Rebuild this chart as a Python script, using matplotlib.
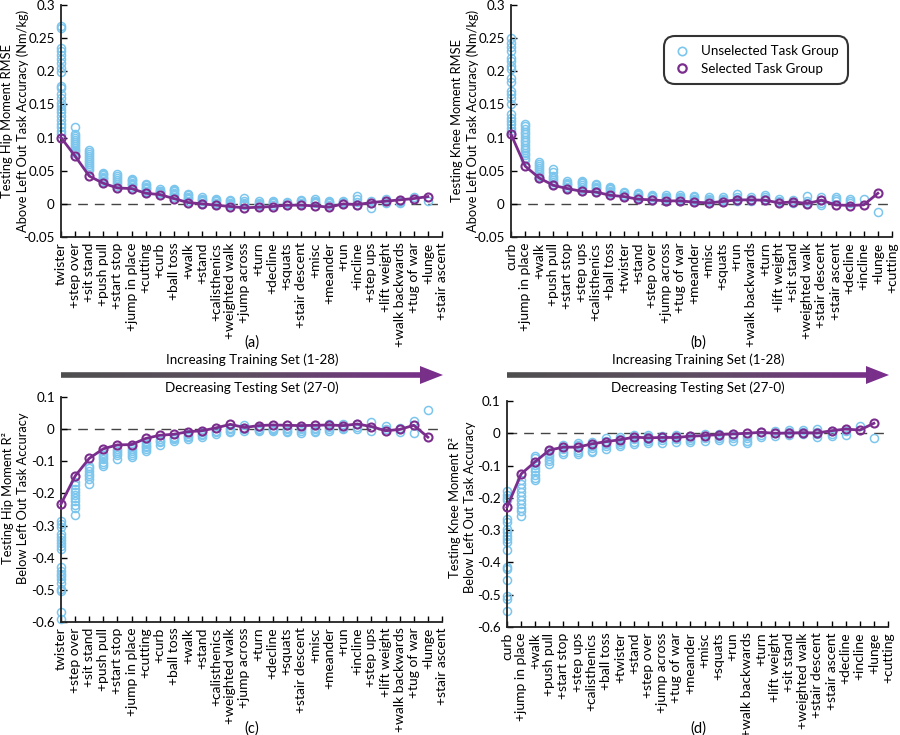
import numpy as np
import matplotlib
matplotlib.use('Agg')
import matplotlib.pyplot as plt
from matplotlib.lines import Line2D
from matplotlib.patches import Polygon
from matplotlib.colors import LinearSegmentedColormap

plt.rcParams['font.family'] = ['Lato', 'DejaVu Sans']
plt.rcParams['font.size'] = 10
plt.rcParams['axes.unicode_minus'] = False

BLUE = '#7cc6ee'
PURPLE = '#7b2d8e'

# task order added at each step
hip_tasks = ['twister', '+step over', '+sit stand', '+push pull', '+start stop', '+jump in place',
             '+cutting', '+curb', '+ball toss', '+walk', '+stand', '+calisthenics', '+weighted walk',
             '+jump across', '+turn', '+decline', '+squats', '+stair descent', '+misc', '+meander',
             '+run', '+incline', '+step ups', '+lift weight', '+walk backwards', '+tug of war',
             '+lunge', '+stair ascent']
knee_tasks = ['curb', '+jump in place', '+walk', '+push pull', '+start stop', '+step ups',
              '+calisthenics', '+ball toss', '+twister', '+stand', '+step over', '+jump across',
              '+tug of war', '+meander', '+misc', '+squats', '+run', '+walk backwards', '+turn',
              '+lift weight', '+sit stand', '+weighted walk', '+stair descent', '+stair ascent',
              '+decline', '+incline', '+lunge', '+cutting']

# (a) hip RMSE
hip_rmse_sel = [0.100, 0.072, 0.042, 0.031, 0.024, 0.023, 0.016, 0.014, 0.008, 0.002, 0.000,
                -0.002, -0.004, -0.006, -0.005, -0.004, -0.002, -0.002, -0.003, -0.005, 0.000,
                -0.001, 0.002, 0.004, 0.006, 0.008, 0.011]
hip_rmse_unsel = [
    [0.268, 0.265, 0.235, 0.230, 0.224, 0.218, 0.212, 0.205, 0.199, 0.178, 0.175, 0.165, 0.160,
     0.152, 0.148, 0.143, 0.138, 0.133, 0.127, 0.120, 0.116, 0.110, 0.105],
    [0.116, 0.106, 0.103, 0.100, 0.097, 0.094, 0.091, 0.088, 0.085, 0.082, 0.079, 0.076],
    [0.081, 0.078, 0.075, 0.072, 0.069, 0.066, 0.063, 0.060, 0.057, 0.054, 0.051],
    [0.047, 0.045, 0.043, 0.041, 0.039, 0.037, 0.035, 0.033],
    [0.045, 0.042, 0.039, 0.036, 0.033, 0.030, 0.027],
    [0.038, 0.036, 0.034, 0.032, 0.030, 0.028, 0.026],
    [0.030, 0.028, 0.026, 0.024, 0.022, 0.020, 0.018],
    [0.022, 0.020, 0.019, 0.018, 0.017, 0.016],
    [0.023, 0.021, 0.019, 0.017, 0.015, 0.013, 0.011],
    [0.015, 0.013, 0.011, 0.009, 0.007, 0.005],
    [0.010, 0.008, 0.006, 0.004, 0.002],
    [0.008, 0.006, 0.004, 0.002, 0.000],
    [0.006, 0.004, 0.002, 0.000, -0.002],
    [0.009, 0.004, 0.002, 0.000, -0.002],
    [0.004, 0.002, 0.000, -0.002],
    [0.005, 0.003, 0.001, -0.002],
    [0.003, 0.001, -0.001],
    [0.006, 0.004, 0.002, 0.000],
    [0.007, 0.005, 0.003, 0.001],
    [0.005, 0.003, 0.001, -0.001],
    [0.005, 0.003, 0.001],
    [0.012, 0.007, 0.003, -0.002],
    [0.005, 0.001, -0.006],
    [0.007, 0.004, 0.001],
    [0.005, 0.003, 0.001],
    [0.010, 0.008],
    [0.004],
]

# (b) knee RMSE
knee_rmse_sel = [0.105, 0.057, 0.039, 0.028, 0.023, 0.019, 0.018, 0.013, 0.011, 0.007, 0.006,
                 0.0045, 0.0045, 0.0025, 0.0015, 0.0035, 0.006, 0.006, 0.0055, 0.0015, 0.003,
                 0.0005, 0.0055, -0.0015, -0.0025, -0.0015, 0.016]
knee_rmse_unsel = [
    [0.250, 0.242, 0.236, 0.230, 0.220, 0.215, 0.208, 0.203, 0.190, 0.184, 0.170, 0.165, 0.160,
     0.150, 0.135, 0.130, 0.125, 0.120, 0.115, 0.110],
    [0.121, 0.117, 0.113, 0.109, 0.105, 0.101, 0.097, 0.093, 0.089, 0.085, 0.081, 0.077, 0.073,
     0.069, 0.066],
    [0.063, 0.060, 0.057, 0.054, 0.051, 0.048, 0.045, 0.042, 0.039],
    [0.052, 0.048, 0.042, 0.039, 0.036, 0.033, 0.030],
    [0.034, 0.032, 0.030, 0.028, 0.026, 0.024],
    [0.035, 0.033, 0.031, 0.028, 0.025, 0.022, 0.020],
    [0.030, 0.028, 0.026, 0.024, 0.022, 0.020],
    [0.026, 0.024, 0.022, 0.020, 0.018, 0.016],
    [0.018, 0.016, 0.014, 0.012],
    [0.017, 0.015, 0.013, 0.011, 0.009],
    [0.014, 0.012, 0.010, 0.008, 0.006],
    [0.013, 0.011, 0.009, 0.007, 0.005],
    [0.013, 0.011, 0.009, 0.007, 0.005],
    [0.012, 0.010, 0.008, 0.006, 0.004],
    [0.010, 0.008, 0.006, 0.004, 0.002],
    [0.010, 0.008, 0.006, 0.004],
    [0.015, 0.010, 0.007, 0.004],
    [0.010, 0.007, 0.005],
    [0.013, 0.010, 0.008, 0.006],
    [0.008, 0.005, 0.003],
    [0.006, 0.003, 0.001],
    [0.012, 0.005, 0.001],
    [0.011, 0.006, 0.002, -0.001],
    [0.011, 0.008, 0.004],
    [0.008, 0.004, 0.001],
    [0.008],
    [-0.012],
]

# (c) hip R2
hip_r2_sel = [-0.233, -0.146, -0.091, -0.061, -0.049, -0.048, -0.029, -0.019, -0.016, -0.008,
              -0.005, 0.004, 0.015, 0.005, 0.011, 0.013, 0.012, 0.011, 0.012, 0.013, 0.011,
              0.016, 0.008, -0.005, -0.001, 0.012, -0.025]
hip_r2_unsel = [
    [-0.285, -0.295, -0.305, -0.325, -0.335, -0.345, -0.355, -0.365, -0.372, -0.430, -0.440,
     -0.450, -0.458, -0.465, -0.480, -0.498, -0.505, -0.570, -0.590],
    [-0.165, -0.175, -0.185, -0.195, -0.205, -0.215, -0.225, -0.235, -0.245, -0.268],
    [-0.115, -0.122, -0.130, -0.138, -0.146, -0.155, -0.171],
    [-0.073, -0.080, -0.087, -0.094, -0.101, -0.108, -0.114],
    [-0.062, -0.068, -0.074, -0.080, -0.092],
    [-0.057, -0.063, -0.069, -0.075, -0.081, -0.086],
    [-0.041, -0.046, -0.051, -0.056, -0.061, -0.067],
    [-0.031, -0.036, -0.041, -0.048],
    [-0.024, -0.028, -0.032, -0.036],
    [-0.015, -0.020, -0.025, -0.031],
    [-0.010, -0.014, -0.019, -0.024],
    [-0.005, -0.010, -0.015],
    [0.005, 0.000, -0.005, -0.010],
    [0.012, 0.005, 0.000, -0.005],
    [0.008, 0.002, -0.003, -0.007],
    [0.005, 0.000, -0.004, -0.007],
    [0.005, 0.000, -0.005, -0.010],
    [0.005, -0.001, -0.007, -0.012],
    [0.005, 0.000, -0.005, -0.010],
    [0.015, 0.008, 0.002, -0.005],
    [0.017, 0.010, 0.005, 0.000],
    [0.015, 0.008, 0.000],
    [0.021, -0.005],
    [0.010, 0.000],
    [0.005, -0.010],
    [0.026, -0.012],
    [0.059],
]

# (d) knee R2
knee_r2_sel = [-0.229, -0.126, -0.088, -0.052, -0.043, -0.043, -0.033, -0.026, -0.020, -0.012,
               -0.014, -0.013, -0.013, -0.009, -0.007, -0.004, -0.002, 0.000, 0.003, 0.000,
               0.001, 0.002, 0.001, 0.008, 0.013, 0.010, 0.031]
knee_r2_unsel = [
    [-0.180, -0.190, -0.200, -0.208, -0.265, -0.276, -0.296, -0.307, -0.317, -0.327, -0.337,
     -0.361, -0.413, -0.419, -0.454, -0.505, -0.513, -0.551],
    [-0.146, -0.158, -0.170, -0.182, -0.194, -0.206, -0.218, -0.230, -0.242, -0.255],
    [-0.069, -0.078, -0.098, -0.108, -0.118, -0.128, -0.138, -0.146],
    [-0.055, -0.063, -0.071, -0.079, -0.087, -0.095],
    [-0.035, -0.042, -0.050, -0.058, -0.065],
    [-0.030, -0.037, -0.044, -0.051, -0.058, -0.065],
    [-0.026, -0.033, -0.040, -0.047, -0.054, -0.059],
    [-0.016, -0.024, -0.032, -0.040, -0.050],
    [-0.010, -0.018, -0.026, -0.034, -0.040],
    [-0.005, -0.012, -0.019, -0.026, -0.033],
    [-0.005, -0.012, -0.019, -0.025, -0.030],
    [-0.008, -0.015, -0.022, -0.030],
    [-0.005, -0.012, -0.019, -0.026],
    [-0.007, -0.014, -0.021, -0.028],
    [-0.002, -0.009, -0.016, -0.023],
    [-0.002, -0.008, -0.014, -0.020],
    [-0.002, -0.009, -0.016, -0.023],
    [-0.007, -0.015, -0.023, -0.031],
    [0.003, -0.004, -0.012],
    [0.008, 0.000, -0.007],
    [0.010, 0.003, -0.004],
    [0.009, 0.003, -0.003],
    [0.013, 0.005, -0.003, -0.010],
    [0.006, -0.001, -0.007],
    [0.008, -0.004],
    [0.022],
    [-0.015],
]

rmse_ticks = [-0.05, 0, 0.05, 0.1, 0.15, 0.2, 0.25, 0.3]
rmse_ticklabels = ['-0.05', '0', '0.05', '0.1', '0.15', '0.2', '0.25', '0.3']
r2_ticks = [-0.6, -0.5, -0.4, -0.3, -0.2, -0.1, 0, 0.1]
r2_ticklabels = ['-0.6', '-0.5', '-0.4', '-0.3', '-0.2', '-0.1', '0', '0.1']

W, H = 900, 735


def fx(px):
    return px / W


def fy(py):
    return 1 - py / H


fig = plt.figure(figsize=(9, 7.35), dpi=100)


def panel(rect, tasks, unsel, sel, ticks, ticklabels, ylim, ylabel, label_x, label_y,
          letter, letter_xy):
    x0, y0, x1, y1 = rect
    ax = fig.add_axes([fx(x0), fy(y1), (x1 - x0) / W, (y1 - y0) / H])
    for i, vals in enumerate(unsel):
        ax.plot(np.full(len(vals), i + 1), vals, 'o', mfc='none', mec=BLUE, ms=5.8, mew=1.1,
                clip_on=False, zorder=2)
    ax.axhline(0, color='#444444', ls=(0, (7, 5)), lw=1, zorder=1)
    ax.plot(np.arange(1, len(sel) + 1), sel, '-o', color=PURPLE, lw=2, mfc='none', mew=1.5,
            ms=5.8, clip_on=False, zorder=3)
    ax.set_xlim(1, len(tasks))
    ax.set_ylim(*ylim)
    ax.set_xticks(np.arange(1, len(tasks) + 1))
    ax.set_xticklabels(tasks, rotation=90)
    ax.set_yticks(ticks)
    ax.set_yticklabels(ticklabels)
    ax.tick_params(direction='in', length=4, width=1, pad=4)
    ax.tick_params(axis='y', pad=4.5, labelsize=9.6)
    for s in ['top', 'right']:
        ax.spines[s].set_visible(False)
    for s in ['left', 'bottom']:
        ax.spines[s].set_linewidth(1.3)
        ax.spines[s].set_color('#222222')
    ax.set_ylabel(ylabel, linespacing=1.3, fontsize=9.3)
    ax.yaxis.set_label_coords((label_x - x0) / (x1 - x0), label_y)
    fig.text(fx(letter_xy[0]), fy(letter_xy[1]), letter, ha='center', va='center', fontsize=10.5)
    return ax


ax_a = panel((61, 5, 442, 237), hip_tasks, hip_rmse_unsel, hip_rmse_sel, rmse_ticks,
             rmse_ticklabels, (-0.05, 0.3),
             'Testing Hip Moment RMSE\nAbove Left Out Task Accuracy (Nm/kg)', 29, 0.5,
             '(a)', (252, 343))
ax_b = panel((511, 5, 892, 237), knee_tasks, knee_rmse_unsel, knee_rmse_sel, rmse_ticks,
             rmse_ticklabels, (-0.05, 0.3),
             'Testing Knee Moment RMSE\nAbove Left Out Task Accuracy (Nm/kg)', 479, 0.5,
             '(b)', (698, 343))
ax_c = panel((61, 397, 442, 622), hip_tasks, hip_r2_unsel, hip_r2_sel, r2_ticks,
             r2_ticklabels, (-0.6, 0.1),
             'Testing Hip Moment R²\nBelow Left Out Task Accuracy', 29, 0.55,
             '(c)', (252, 729))
ax_d = panel((507, 401, 888, 627), knee_tasks, knee_r2_unsel, knee_r2_sel, r2_ticks,
             r2_ticklabels, (-0.6, 0.1),
             'Testing Knee Moment R²\nBelow Left Out Task Accuracy', 476, 0.53,
             '(d)', (698, 729))

handles = [Line2D([], [], marker='o', ls='none', mfc='none', mec=BLUE, ms=6, mew=1.2),
           Line2D([], [], marker='o', ls='none', mfc='none', mec=PURPLE, ms=6, mew=1.6)]
leg = fig.legend(handles, ['Unselected Task Group', 'Selected Task Group'],
                 loc='upper left', bbox_to_anchor=(fx(660), fy(32)), fontsize=9.6,
                 frameon=True, fancybox=True, edgecolor='black', handletextpad=0.8,
                 borderpad=0.5, labelspacing=0.4, handlelength=1.3)
leg.get_frame().set_linewidth(1.5)
leg.get_frame().set_boxstyle('round,pad=0.2,rounding_size=0.8')

cmap = LinearSegmentedColormap.from_list('arrow', ['#4f4f4f', '#5e4e62', '#7b2d8e'])
for ax0, ax1, cx in [(61, 443, 252), (507, 889, 698)]:
    aax = fig.add_axes([fx(ax0), fy(385), (ax1 - ax0) / W, 20 / H])
    aax.set_xlim(0, 1)
    aax.set_ylim(0, 1)
    aax.axis('off')
    hs = 1 - 23 / (ax1 - ax0)
    verts = [(0, 0.36), (hs, 0.36), (hs, 0.05), (1, 0.5), (hs, 0.95), (hs, 0.64), (0, 0.64)]
    poly = Polygon(verts, closed=True, facecolor='none', edgecolor='none')
    aax.add_patch(poly)
    im = aax.imshow(np.linspace(0, 1, 256).reshape(1, -1), cmap=cmap, extent=[0, 1, 0, 1],
                    aspect='auto')
    im.set_clip_path(poly)
    fig.text(fx(cx), fy(360), 'Increasing Training Set (1-28)', ha='center', va='center',
             fontsize=9.6)
    fig.text(fx(cx), fy(388), 'Decreasing Testing Set (27-0)', ha='center', va='center',
             fontsize=9.6)

fig.savefig('out.png', dpi=100)
